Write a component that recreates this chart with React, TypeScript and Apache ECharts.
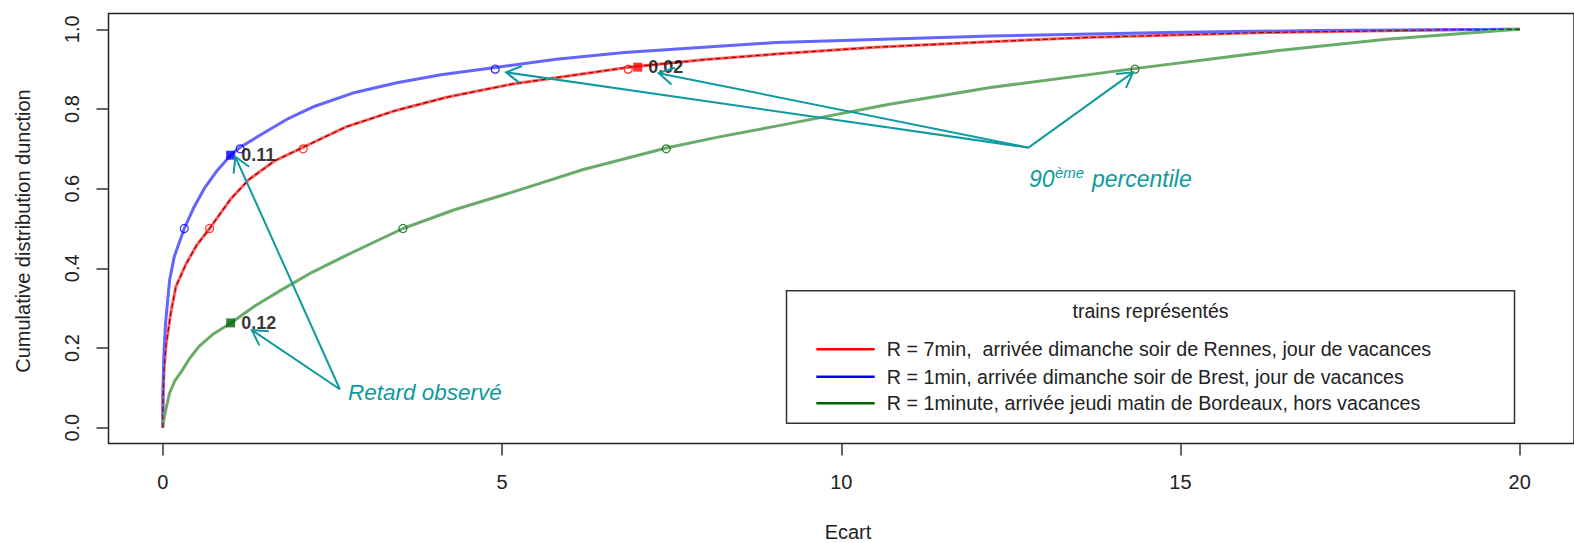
import React, { useEffect, useRef } from "react";
import * as echarts from "echarts";

// ---------- data ----------
const xTicks = [0, 5, 10, 15, 20];
const yTicks = [0, 0.2, 0.4, 0.6, 0.8, 1.0];

// Rennes, R = 7min
const redX = [0, 0.004, 0.02, 0.05, 0.12, 0.195, 0.34, 0.5, 0.69, 1.0, 1.27, 1.65, 2.07, 2.7, 3.45, 4.2, 5.13, 6.87, 8.0, 9.04, 10.5, 12.2, 13.7, 16.25, 19, 20];
const redY = [0, 0.08, 0.15, 0.21, 0.29, 0.355, 0.41, 0.458, 0.5, 0.574, 0.623, 0.67, 0.704, 0.755, 0.797, 0.83, 0.862, 0.905, 0.924, 0.938, 0.955, 0.969, 0.98, 0.992, 0.999, 1.0];

// Brest, R = 1min
const blueX = [0, 0.004, 0.015, 0.04, 0.1, 0.17, 0.317, 0.45, 0.61, 0.8, 1.0, 1.14, 1.5, 1.85, 2.24, 2.8, 3.45, 4.1, 4.9, 5.8, 6.8, 9.04, 12.2, 14.8, 17, 20];
const blueY = [0, 0.1, 0.18, 0.26, 0.37, 0.43, 0.5, 0.55, 0.6, 0.645, 0.684, 0.704, 0.741, 0.776, 0.807, 0.84, 0.866, 0.886, 0.904, 0.925, 0.942, 0.967, 0.983, 0.992, 0.997, 1.0];

// Bordeaux, R = 1minute
const greenX = [0, 0.02, 0.05, 0.1, 0.18, 0.29, 0.4, 0.535, 0.75, 1.0, 1.35, 1.75, 2.2, 2.72, 3.54, 4.3, 5.13, 6.2, 7.42, 8.2, 9.04, 10.71, 12.2, 14.35, 16.41, 18.04, 19.78, 20];
const greenY = [0, 0.025, 0.05, 0.087, 0.118, 0.145, 0.175, 0.204, 0.236, 0.262, 0.305, 0.346, 0.39, 0.434, 0.5, 0.547, 0.59, 0.648, 0.702, 0.73, 0.757, 0.812, 0.854, 0.902, 0.946, 0.975, 0.998, 1.0];

// quantiles 50 / 70 / 90 %
const quantLevels = [0.5, 0.7, 0.9];
const redQuantX = [0.69, 2.07, 6.86];
const blueQuantX = [0.317, 1.14, 4.9];
const greenQuantX = [3.54, 7.42, 14.33];

// observed delays
const observedX = [1.0, 7.0, 1.0]; // blue, red, green
const observedY = [0.684, 0.905, 0.263];
const observedLabels = ["0.11", "0.02", "0.12"];

// annotation arrows [from, to] in data units
const arrowFromX = [2.61, 2.61, 12.76, 12.76, 12.76];
const arrowFromY = [0.0964, 0.0964, 0.703, 0.703, 0.703];
const arrowToX = [1.07, 1.313, 5.06, 7.31, 14.3];
const arrowToY = [0.68, 0.245, 0.892, 0.89, 0.892];

const legendTitle = "trains représentés";
const legendLabels = [
  "R = 7min,  arrivée dimanche soir de Rennes, jour de vacances",
  "R = 1min, arrivée dimanche soir de Brest, jour de vacances",
  "R = 1minute, arrivée jeudi matin de Bordeaux, hors vacances",
];
const legendColors = ["#ff0000", "#0000ff", "#006400"];

const xTitle = "Ecart";
const yTitle = "Cumulative distribution dunction";

const FONT = "'Liberation Sans', Arial, sans-serif";
const TEAL = "#0e9a9e";

const pairs = (xs: number[], ys: number[]) => xs.map((x, i) => [x, ys[i]]);

export default function App() {
  const ref = useRef<HTMLDivElement>(null);

  useEffect(() => {
    if (!ref.current) return;
    const chart = echarts.init(ref.current, undefined, { renderer: "svg" });

    const lineBase = {
      type: "line",
      showSymbol: false,
      smooth: false,
      silent: true,
      z: 2,
    };

    const quantSeries = (xs: number[], color: string) => ({
      type: "scatter",
      data: pairs(xs, quantLevels),
      symbol: "circle",
      symbolSize: 8,
      itemStyle: { color: "rgba(0,0,0,0)", borderColor: color, borderWidth: 1.2 },
      silent: true,
      z: 4,
    });

    const obsColors = ["#0000ff", "#ff0000", "#006400"];

    const option: any = {
      animation: false,
      backgroundColor: "#ffffff",
      grid: {
        left: 108.5,
        top: 13.4,
        width: 1480,
        height: 430.2,
        show: true,
        borderColor: "#222",
        borderWidth: 1.5,
        backgroundColor: "rgba(0,0,0,0)",
      },
      xAxis: {
        type: "value",
        min: -0.8,
        max: 20.8,
        splitLine: { show: false },
        axisLine: { show: false, onZero: false },
        axisTick: {
          show: true,
          customValues: xTicks,
          length: 12,
          lineStyle: { color: "#333", width: 1.5 },
        },
        axisLabel: {
          customValues: xTicks,
          fontSize: 20,
          color: "#222",
          fontFamily: FONT,
          margin: 28,
          formatter: (v: number) => String(v),
        },
      },
      yAxis: {
        type: "value",
        min: -0.04,
        max: 1.04,
        splitLine: { show: false },
        axisLine: { show: false, onZero: false },
        axisTick: {
          show: true,
          customValues: yTicks,
          length: 12,
          lineStyle: { color: "#333", width: 1.5 },
        },
        axisLabel: {
          customValues: yTicks,
          fontSize: 20,
          color: "#222",
          fontFamily: FONT,
          margin: 27,
          rotate: 90,
          formatter: (v: number) => v.toFixed(1),
        },
      },
      series: [
        {
          ...lineBase,
          data: pairs(redX, redY),
          lineStyle: { color: "#ff5e5e", width: 3 },
        },
        {
          ...lineBase,
          data: pairs(redX, redY),
          lineStyle: { color: "#a00000", width: 1.2, type: [5, 3] },
          z: 3,
        },
        {
          ...lineBase,
          data: pairs(blueX, blueY),
          lineStyle: { color: "#6464ff", width: 3 },
        },
        {
          ...lineBase,
          data: pairs(greenX, greenY),
          lineStyle: { color: "#6aaa6a", width: 3 },
        },
        quantSeries(redQuantX, "#ff0000"),
        quantSeries(blueQuantX, "#0000ff"),
        quantSeries(greenQuantX, "#006400"),
        {
          type: "scatter",
          data: observedX.map((x, i) => ({
            value: [x, observedY[i]],
            itemStyle: { color: obsColors[i] },
            label: { formatter: observedLabels[i] },
          })),
          symbol: "rect",
          symbolSize: 9,
          silent: true,
          z: 5,
          label: {
            show: true,
            position: "right",
            distance: 6,
            fontSize: 18,
            fontWeight: "bold",
            color: "#000",
            fontFamily: FONT,
          },
        },
        {
          type: "custom",
          coordinateSystem: "cartesian2d",
          silent: true,
          clip: false,
          z: 6,
          encode: { x: [0, 2], y: [1, 3] },
          data: arrowFromX.map((x, i) => [x, arrowFromY[i], arrowToX[i], arrowToY[i]]),
          renderItem: (params: any, api: any) => {
            const p0 = api.coord([api.value(0), api.value(1)]);
            const p1 = api.coord([api.value(2), api.value(3)]);
            const ang = Math.atan2(p0[1] - p1[1], p0[0] - p1[0]);
            const L = 17;
            const a = Math.PI / 6;
            const h1 = [p1[0] + L * Math.cos(ang + a), p1[1] + L * Math.sin(ang + a)];
            const h2 = [p1[0] + L * Math.cos(ang - a), p1[1] + L * Math.sin(ang - a)];
            return {
              type: "group",
              children: [
                {
                  type: "line",
                  shape: { x1: p0[0], y1: p0[1], x2: p1[0], y2: p1[1] },
                  style: { stroke: TEAL, lineWidth: 2 },
                },
                {
                  type: "polyline",
                  shape: { points: [h1, p1, h2] },
                  style: { stroke: TEAL, lineWidth: 2, fill: null },
                },
              ],
            };
          },
        },
      ],
      graphic: [
        {
          type: "text",
          x: 848,
          y: 532,
          style: { text: xTitle, fontSize: 20, fontFamily: FONT, fill: "#222", align: "center", verticalAlign: "middle" },
        },
        {
          type: "text",
          x: 23,
          y: 231,
          rotation: Math.PI / 2,
          style: { text: yTitle, fontSize: 20, fontFamily: FONT, fill: "#222", align: "center", verticalAlign: "middle" },
        },
        {
          type: "text",
          x: 348,
          y: 392,
          style: { text: "Retard observé", fontSize: 22.5, fontStyle: "italic", fontFamily: FONT, fill: TEAL, align: "left", verticalAlign: "middle" },
        },
        {
          type: "text",
          x: 1029,
          y: 178.5,
          style: { text: "90", fontSize: 23, fontStyle: "italic", fontFamily: FONT, fill: TEAL, align: "left", verticalAlign: "middle" },
        },
        {
          type: "text",
          x: 1055,
          y: 172.5,
          style: { text: "ème", fontSize: 15, fontStyle: "italic", fontFamily: FONT, fill: TEAL, align: "left", verticalAlign: "middle" },
        },
        {
          type: "text",
          x: 1092,
          y: 178.5,
          style: { text: "percentile", fontSize: 23, fontStyle: "italic", fontFamily: FONT, fill: TEAL, align: "left", verticalAlign: "middle" },
        },
        // legend box
        {
          type: "rect",
          shape: { x: 786.5, y: 290.7, width: 728, height: 132.6 },
          style: { fill: "#fff", stroke: "#333", lineWidth: 1.5 },
          z: 20,
        },
        {
          type: "text",
          x: 1150.5,
          y: 310.7,
          z: 21,
          style: { text: legendTitle, fontSize: 19.5, fontFamily: FONT, fill: "#222", align: "center", verticalAlign: "middle" },
        },
        ...legendLabels.flatMap((lab, i) => {
          const yy = [349.3, 376.7, 403.3][i];
          return [
            {
              type: "line",
              z: 21,
              shape: { x1: 816.3, y1: yy, x2: 874.7, y2: yy },
              style: { stroke: legendColors[i], lineWidth: 2.5 },
            },
            {
              type: "text",
              x: 886.8,
              y: yy,
              z: 21,
              style: { text: lab, fontSize: 19.7, fontFamily: FONT, fill: "#222", align: "left", verticalAlign: "middle" },
            },
          ];
        }),
      ],
    };

    chart.setOption(option);
    return () => chart.dispose();
  }, []);

  return (
    <div
      ref={ref}
      style={{ position: "fixed", left: 0, top: 0, width: 1574, height: 543, background: "#fff" }}
    />
  );
}
